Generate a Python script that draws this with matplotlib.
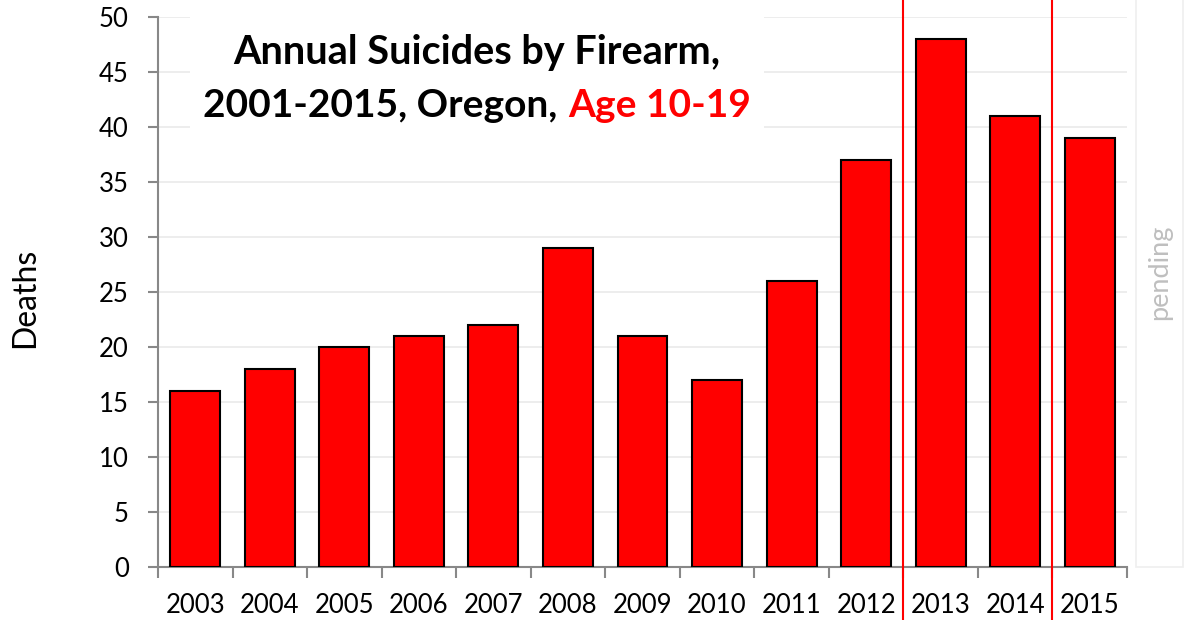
import matplotlib.pyplot as plt
from matplotlib.patches import Rectangle

years = ["2003", "2004", "2005", "2006", "2007", "2008", "2009",
         "2010", "2011", "2012", "2013", "2014", "2015"]
deaths = [16, 18, 20, 21, 22, 29, 21, 17, 26, 37, 48, 41, 39]
divider_after = ["2012", "2014"]
y_ticks = list(range(0, 51, 5))

plt.rcParams["font.family"] = ["Lato", "DejaVu Sans"]

W, H = 1192, 620
fig = plt.figure(figsize=(W / 100, H / 100), dpi=100)
ax = fig.add_axes([158 / W, 1 - 567 / H, (1127 - 158) / W, (567 - 17) / H])

x = list(range(len(years)))
ax.bar(x, deaths, width=0.67, color="#ff0000", edgecolor="black", linewidth=1.5, zorder=3)

ax.set_xlim(-0.5, len(years) - 0.5)
ax.set_ylim(0, 50)
ax.set_yticks(y_ticks)
ax.set_xticks(x)
ax.set_xticklabels(years)
ax.set_xticks([i - 0.5 for i in range(len(years) + 1)], minor=True)
ax.tick_params(axis="x", which="major", length=0, pad=19, labelsize=18.5)
ax.tick_params(axis="x", which="minor", length=8, width=1.5, color="#888888")
ax.tick_params(axis="y", length=7, width=1.5, color="#888888", pad=14, labelsize=18.5)

ax.set_axisbelow(True)
ax.yaxis.grid(True, color="#ececec", linewidth=1.3)
for side in ["top", "right"]:
    ax.spines[side].set_visible(False)
for side in ["left", "bottom"]:
    ax.spines[side].set_color("#888888")
    ax.spines[side].set_linewidth(1.5)

# red divider lines spanning the whole figure height
for yr in divider_after:
    xv = years.index(yr) + 0.5
    ax.plot([xv, xv], [-0.2, 1.2], color="#ff0000", linewidth=1.5,
            transform=ax.get_xaxis_transform(), clip_on=False, zorder=4)

# white box behind the title hides the gridlines there
ax.add_patch(Rectangle((190 / W, 1 - 142 / H), (764 - 190) / W, 134 / H,
                       transform=fig.transFigure, facecolor="white", edgecolor="none",
                       zorder=1, clip_on=False))

# "pending" placeholder box
fig.patches.append(Rectangle((1136 / W, 1 - 567 / H), 47 / W, 567 / H + 0.05,
                             transform=fig.transFigure, facecolor="white",
                             edgecolor="#efefef", linewidth=1.2))
fig.text(1160 / W, 1 - 272 / H, "pending", rotation=90, ha="center", va="center",
         color="#bfbfbf", fontsize=19.5)

fig.text(25 / W, 1 - 298 / H, "Deaths", rotation=90, ha="center", va="center",
         fontsize=23)

# title, second line partly red
cx = 477 / W
fig.text(cx, 1 - 64 / H, "Annual Suicides by Firearm,", ha="center", va="baseline",
         fontsize=28.5, fontweight="bold")
t_black = fig.text(0, 1 - 117 / H, "2001-2015, Oregon,", ha="left", va="baseline",
                   fontsize=28, fontweight="bold")
t_red = fig.text(0, 1 - 117 / H, "Age 10-19", ha="left", va="baseline",
                 fontsize=28, fontweight="bold", color="#ff0000")
r = fig.canvas.get_renderer()
wb = t_black.get_window_extent(r).width / fig.bbox.width
wr = t_red.get_window_extent(r).width / fig.bbox.width
gap = 11 / W
left = cx - (wb + gap + wr) / 2
t_black.set_x(left)
t_red.set_x(left + wb + gap)

fig.savefig("out.png", dpi=100)
